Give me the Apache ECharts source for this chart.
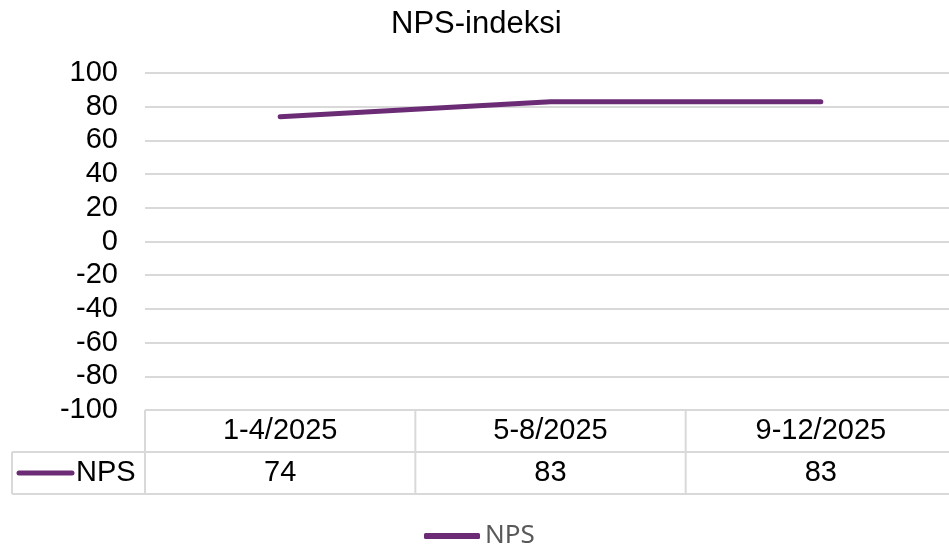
<!DOCTYPE html>
<html>
<head>
<meta charset="utf-8">
<script src="https://cdn.jsdelivr.net/npm/echarts@6/dist/echarts.min.js"></script>
<style>
  html, body { margin: 0; padding: 0; background: #fff; overflow: hidden; }
  #chart { width: 956px; height: 549px; }
</style>
</head>
<body>
<div id="chart"></div>
<script>
// Datos del gráfico
const kaudet = ['1-4/2025', '5-8/2025', '9-12/2025'];
const npsArvot = [74, 83, 83];
const sarjaNimi = 'NPS';

const VARI = '#6B2C75';
const VIIVA = '#d9d9d9';
const FONTTI = '"Liberation Sans", Arial, sans-serif';

const chart = echarts.init(document.getElementById('chart'));

const option = {
    animation: false,
    title: {
        text: 'NPS-indeksi', left: 386, top: 4,
        textStyle: { fontFamily: FONTTI, fontSize: 31, fontWeight: 'normal', color: '#000' }
    },
    grid: { left: 145, right: 0, top: 73, bottom: 139 },
    legend: {
        data: [{ name: sarjaNimi, icon: 'roundRect' }], left: 419, top: 518,
        itemWidth: 56, itemHeight: 6, itemGap: 5,
        textStyle: { fontFamily: '"Noto Sans", sans-serif', fontSize: 26, color: '#595959' }
    },
    xAxis: {
        type: 'category', data: kaudet, boundaryGap: true,
        axisLine: { show: false }, axisTick: { show: false },
        axisLabel: {
            margin: 0, interval: 0,
            formatter: (v, i) => `{c|${v}}\n{v|${npsArvot[i]}}`,
            rich: {
                c: { fontFamily: FONTTI, fontSize: 29, color: '#000', lineHeight: 42 },
                v: { fontFamily: FONTTI, fontSize: 29, color: '#000', lineHeight: 42 }
            }
        }
    },
    yAxis: {
        type: 'value', min: -100, max: 100, interval: 20,
        axisLine: { show: false }, axisTick: { show: false },
        axisLabel: { margin: 27, fontFamily: FONTTI, fontSize: 29, color: '#000' },
        splitLine: { lineStyle: { color: VIIVA, width: 2 } }
    },
    series: [{
        name: sarjaNimi, type: 'line', data: npsArvot,
        symbol: 'none',
        lineStyle: { color: VARI, width: 5, cap: 'round', join: 'round' },
        itemStyle: { color: VARI }
    }]
};

chart.setOption(option);

// Taulukon viivat lasketaan akselin koordinaateista
function piirraTaulukko() {
    const keskit = kaudet.map((k, i) => chart.convertToPixel({ xAxisIndex: 0 }, i));
    const kaista = keskit[1] - keskit[0];
    const yla = chart.convertToPixel({ yAxisIndex: 0 }, -100);
    const rivi = 42;
    const vasen = 12;
    const oikea = chart.getWidth();
    const viivaTyyli = { stroke: VIIVA, lineWidth: 2 };
    const elementit = [];

    [yla + rivi, yla + 2 * rivi].forEach(y => {
        elementit.push({ type: 'line', shape: { x1: vasen, y1: y, x2: oikea, y2: y }, style: viivaTyyli });
    });
    const rajat = [keskit[0] - kaista / 2].concat(keskit.map(c => c + kaista / 2));
    rajat.forEach(x => {
        elementit.push({ type: 'line', shape: { x1: x, y1: yla, x2: x, y2: yla + 2 * rivi }, style: viivaTyyli });
    });
    elementit.push({ type: 'line', shape: { x1: vasen, y1: yla + rivi, x2: vasen, y2: yla + 2 * rivi }, style: viivaTyyli });

    // legendan avain taulukossa
    const ky = yla + rivi * 1.5;
    elementit.push({ type: 'line', shape: { x1: 19, y1: ky, x2: 72, y2: ky }, style: { stroke: VARI, lineWidth: 5, lineCap: 'round' } });
    elementit.push({ type: 'text', x: 76, y: ky, style: { text: sarjaNimi, font: '29px ' + FONTTI, fill: '#000', verticalAlign: 'middle', align: 'left' } });

    chart.setOption({ graphic: elementit });
}

piirraTaulukko();
</script>
</body>
</html>
